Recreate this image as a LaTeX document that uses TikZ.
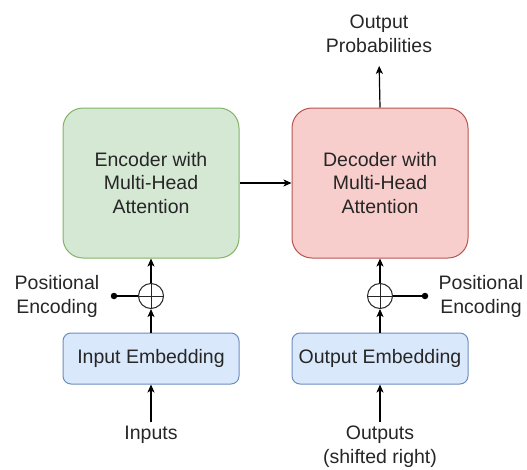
\documentclass[tikz,border=0pt]{standalone}
\usepackage{fontspec}
\setmainfont{Liberation Sans}
\usetikzlibrary{arrows.meta}
\definecolor{encfill}{HTML}{D5E8D4}
\definecolor{encline}{HTML}{82B366}
\definecolor{decfill}{HTML}{F8CECC}
\definecolor{decline}{HTML}{B85450}
\definecolor{embfill}{HTML}{DAE8FC}
\definecolor{embline}{HTML}{6C8EBF}
\newcommand{\bw}{176pt}
\tikzset{
  txt/.style={font=\fontsize{19.5}{23.5}\selectfont, text=black!85, align=center},
  block/.style={txt, draw, line width=1pt, minimum width=\bw, minimum height=150pt, rounded corners=20pt},
  embbox/.style={txt, draw=embline, fill=embfill, line width=1pt, minimum width=\bw, minimum height=51pt, rounded corners=8pt},
  lbl/.style={txt, inner sep=4pt},
  addop/.style={circle, draw=black!85, line width=1pt, minimum size=25pt, inner sep=0pt,
    path picture={\draw[black!85, line width=1pt]
      (path picture bounding box.north) -- (path picture bounding box.south)
      (path picture bounding box.west) -- (path picture bounding box.east);}},
  dot/.style={circle, fill=black, inner sep=0pt, minimum size=6.5pt},
  arr/.style={-{Stealth[length=8pt, width=7pt, inset=2pt]}, line width=1.2pt, black}
}

\begin{document}
\begin{tikzpicture}[x=1pt, y=-1pt]
  \useasboundingbox (0,0) rectangle (527,469);
  % encoder side
  \node[block, draw=encline, fill=encfill] (enc) at (151,183) {Encoder with\\Multi-Head\\Attention};
  \node[embbox] (inemb) at (151,358.5) {Input Embedding};
  \node[addop] (inadd) at (151,296) {};
  \node[dot] (indot) at (114,296) {};
  \node[lbl] (inpos) at (57,296.5) {Positional\\Encoding};
  \node[lbl, anchor=north] (inputs) at (151,422) {Inputs};
  % decoder side
  \node[block, draw=decline, fill=decfill] (dec) at (380,183) {Decoder with\\Multi-Head\\Attention};
  \node[embbox] (outemb) at (380,358.5) {Output Embedding};
  \node[addop] (outadd) at (380,296) {};
  \node[dot] (outdot) at (425,296) {};
  \node[lbl] (outpos) at (481,296.5) {Positional\\Encoding};
  \node[lbl, anchor=north] (outputs) at (380,422) {Outputs\\(shifted right)};
  \node[lbl] (probs) at (379,34) {Output\\Probabilities};
  % connectors
  \draw[arr] (inputs.north) -- (inemb.south);
  \draw[arr] (inemb.north) -- (inadd.south);
  \draw[arr] (inadd.north) -- (enc.south);
  \draw[line width=1.2pt] (indot) -- (inadd.west);
  \draw[arr] (outputs.north) -- (outemb.south);
  \draw[arr] (outemb.north) -- (outadd.south);
  \draw[arr] (outadd.north) -- (dec.south);
  \draw[line width=1.2pt] (outdot) -- (outadd.east);
  \draw[arr] (enc.east) -- (dec.west);
  \draw[arr, shorten >=9pt] (dec.north) -- (probs.south);
\end{tikzpicture}
\end{document}
